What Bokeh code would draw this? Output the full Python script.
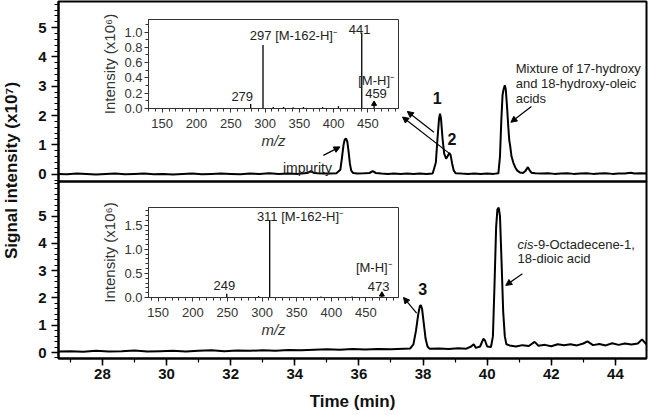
from bokeh.plotting import figure
from bokeh.models import (Range1d, SingleIntervalTicker, FixedTicker, Label, Arrow, NormalHead,
                          PrintfTickFormatter, Column)
from bokeh.embed import file_html
from bokeh.resources import INLINE

FONT = "Liberation Sans"

# ---------------- data ----------------
# top chromatogram (time in min, signal x10^7)
top_t = [26.6, 26.9, 27.2, 27.5, 27.8, 28.1, 28.4, 28.7, 29.0, 29.3, 29.6, 29.9, 30.2, 30.5,
         30.8, 31.1, 31.4, 31.7, 32.0, 32.3, 32.6, 32.9, 33.2, 33.5, 33.8, 34.1, 34.3, 34.42,
         34.5, 34.58, 34.7, 34.9, 35.1, 35.3, 35.42, 35.47, 35.52, 35.56, 35.60, 35.64, 35.68,
         35.72, 35.76, 35.82, 35.95, 36.15, 36.33, 36.43, 36.53, 36.7, 36.9, 37.1, 37.3, 37.5,
         37.7, 37.9, 38.1, 38.3, 38.40, 38.45, 38.50, 38.53, 38.56, 38.61, 38.66, 38.72, 38.77,
         38.82, 38.86, 38.91, 38.96, 39.02, 39.2, 39.4, 39.6, 39.8, 40.0, 40.2, 40.35, 40.40,
         40.44, 40.48, 40.51, 40.55, 40.58, 40.62, 40.66, 40.69, 40.72, 40.76, 40.82, 40.88,
         40.94, 41.02, 41.12, 41.20, 41.27, 41.32, 41.38, 41.5, 41.7, 41.9, 42.1, 42.3, 42.5,
         42.7, 42.9, 43.1, 43.3, 43.5, 43.7, 43.9, 44.1, 44.3, 44.47, 44.6, 44.8, 45.0]
top_y = [0.01, 0.00, 0.02, 0.01, -0.01, 0.01, 0.02, 0.00, 0.01, 0.02, 0.00, 0.01, -0.01, 0.01,
         0.02, 0.00, 0.01, 0.02, 0.01, 0.00, 0.02, 0.01, 0.03, 0.01, 0.02, 0.01, 0.03, 0.05,
         0.10, 0.05, 0.03, 0.02, 0.02, 0.03, 0.15, 0.55, 1.00, 1.19, 1.21, 1.10, 0.75,
         0.35, 0.12, 0.04, 0.02, 0.03, 0.04, 0.10, 0.04, 0.02, 0.01, 0.02, 0.01, 0.02,
         0.01, 0.02, 0.01, 0.02, 0.40, 1.20, 1.90, 2.06, 1.90, 1.20, 0.70, 0.53, 0.62,
         0.72, 0.65, 0.35, 0.12, 0.03, 0.02, 0.01, 0.02, 0.01, 0.02, 0.01, 0.03, 0.60,
         1.80, 2.70, 2.88, 3.03, 2.90, 2.30, 1.60, 1.15, 0.95, 0.60, 0.38, 0.22,
         0.12, 0.06, 0.04, 0.12, 0.24, 0.14, 0.05, 0.03, 0.02, 0.03, 0.01, 0.02, 0.03,
         0.01, 0.02, 0.03, 0.01, 0.02, 0.03, 0.01, 0.02, 0.02, 0.05, 0.02, 0.03, 0.02]

# bottom chromatogram
bot_t = [26.6, 27.0, 27.4, 27.8, 28.2, 28.6, 29.0, 29.4, 29.8, 30.2, 30.6, 31.0, 31.4, 31.8,
         32.2, 32.6, 33.0, 33.4, 33.8, 34.2, 34.6, 35.0, 35.4, 35.8, 36.2, 36.6, 37.0, 37.4,
         37.6, 37.70, 37.78, 37.85, 37.90, 37.93, 37.97, 38.02, 38.08, 38.14, 38.2, 38.5, 38.8,
         39.1, 39.35, 39.5, 39.58, 39.65, 39.78, 39.88, 39.93, 40.0, 40.12, 40.18, 40.23, 40.28,
         40.32, 40.36, 40.40, 40.45, 40.50, 40.55, 40.6, 40.7, 40.9, 41.1, 41.3, 41.48, 41.6,
         41.8, 42.0, 42.2, 42.4, 42.6, 42.8, 43.0, 43.13, 43.3, 43.5, 43.7, 43.9, 44.1, 44.3,
         44.5, 44.7, 44.83, 44.95, 45.0]
bot_y = [0.04, 0.05, 0.03, 0.06, 0.04, 0.05, 0.07, 0.04, 0.05, 0.06, 0.04, 0.06, 0.08, 0.05,
         0.07, 0.06, 0.08, 0.06, 0.09, 0.08, 0.10, 0.12, 0.10, 0.13, 0.11, 0.13, 0.12, 0.14,
         0.15, 0.30, 0.80, 1.40, 1.70, 1.74, 1.60, 1.10, 0.50, 0.22, 0.14, 0.15, 0.13,
         0.16, 0.14, 0.22, 0.30, 0.17, 0.22, 0.50, 0.45, 0.22, 0.20, 0.60, 2.50, 4.60,
         5.25, 5.31, 5.00, 3.30, 1.50, 0.60, 0.30, 0.26, 0.22, 0.27, 0.24, 0.39, 0.25,
         0.28, 0.23, 0.30, 0.27, 0.30, 0.26, 0.33, 0.41, 0.27, 0.31, 0.26, 0.34, 0.28, 0.33,
         0.29, 0.33, 0.48, 0.32, 0.30]

# axis ticks of the chromatogram panels
signal_ticks = [0, 1, 2, 3, 4, 5]
signal_minor = [-0.2, 0.2, 0.4, 0.6, 0.8, 1.2, 1.4, 1.6, 1.8, 2.2, 2.4, 2.6, 2.8, 3.2, 3.4, 3.6,
                3.8, 4.2, 4.4, 4.6, 4.8, 5.2, 5.4, 5.6, 5.8, 6.0, 6.2]

# mass spectrum insets (m/z, intensity x10^6)
ms1_mz = [279, 297, 312, 327, 341, 356, 384, 407, 441, 459]
ms1_int = [0.06, 0.83, 0.02, 0.02, 0.015, 0.02, 0.02, 0.03, 0.99, 0.05]
ms1_marker_mz = [459]
ms1_marker_int = [0.06]

ms2_mz = [249, 295, 311, 385, 430, 473]
ms2_int = [0.08, 0.03, 1.59, 0.02, 0.02, 0.05]
ms2_marker_mz = [473]
ms2_marker_int = [0.06]


# ---------------- helpers ----------------
def place(fig, left, top):
    # absolute placement in page pixels
    fig.styles = {"position": "absolute", "left": f"{left}px", "top": f"{top}px",
                  "max-width": "none", "max-height": "none"}


def style_main_axis(ax, size="15px"):
    ax.axis_line_width = 2
    ax.axis_line_color = "black"
    ax.major_tick_line_width = 1.5
    ax.minor_tick_line_width = 1.2
    ax.major_tick_out = 7
    ax.major_tick_in = 0
    ax.minor_tick_out = 4
    ax.minor_tick_in = 0
    ax.major_label_text_font = FONT
    ax.major_label_text_font_style = "bold"
    ax.major_label_text_font_size = size
    ax.major_label_text_color = "#111111"


def style_inset_axis(ax):
    ax.axis_line_color = "#333333"
    ax.axis_line_width = 1
    ax.major_tick_line_color = "#333333"
    ax.minor_tick_line_color = "#333333"
    ax.major_tick_out = 4
    ax.major_tick_in = 0
    ax.minor_tick_out = 3
    ax.minor_tick_in = 0
    ax.major_label_text_font = FONT
    ax.major_label_text_font_size = "13px"
    ax.major_label_text_color = "#333333"
    ax.axis_label_text_font = FONT
    ax.axis_label_text_font_size = "15px"
    ax.axis_label_text_color = "#333333"


def lab(p, x, y, text, size="13px", style="normal", align="left", color="#222222", x_offset=0,
        baseline="middle"):
    p.add_layout(Label(x=x, y=y, text=text, text_font=FONT, text_font_size=size,
                       text_font_style=style, text_align=align, text_baseline=baseline,
                       text_color=color, x_offset=x_offset))


def arrow(p, x0, y0, x1, y1):
    p.add_layout(Arrow(end=NormalHead(size=6, fill_color="black", line_color="black", line_width=1),
                       x_start=x0, y_start=y0, x_end=x1, y_end=y1,
                       line_color="black", line_width=1.2))


def clean(p):
    p.xgrid.grid_line_color = None
    p.ygrid.grid_line_color = None
    p.border_fill_color = None
    p.toolbar.logo = None


xr = Range1d(26.63, 44.97)

# ---------------- top panel ----------------
top = figure(width=641, height=184, x_range=xr, y_range=Range1d(-0.25, 5.89),
             x_axis_type=None, toolbar_location=None, output_backend="svg",
             min_border_left=45, min_border_right=3, min_border_top=2, min_border_bottom=2,
             outline_line_color="black", outline_line_width=2, background_fill_color=None)
clean(top)
top.yaxis.ticker = FixedTicker(ticks=signal_ticks, minor_ticks=signal_minor)
style_main_axis(top.yaxis[0])
top.line(top_t, top_y, line_color="black", line_width=2)

lab(top, 33.63, 0.21, "impurity", size="14px", baseline="alphabetic")
arrow(top, 34.89, 0.64, 35.41, 0.93)
lab(top, 38.44, 2.59, "1", size="16px", style="bold", align="center", color="#111111")
lab(top, 38.90, 1.21, "2", size="16px", style="bold", align="center", color="#111111")
arrow(top, 38.34, 1.43, 37.51, 2.14)
arrow(top, 38.83, 0.70, 37.36, 1.95)
lab(top, 40.89, 3.60, "Mixture of 17-hydroxy")
lab(top, 40.89, 3.09, "and 18-hydroxy-oleic")
lab(top, 40.89, 2.57, "acids")
arrow(top, 41.38, 2.31, 40.74, 1.77)
place(top, 8, -1)

# ---------------- bottom panel ----------------
bot = figure(width=641, height=234, x_range=xr, y_range=Range1d(-0.22, 6.27),
             toolbar_location=None, output_backend="svg",
             min_border_left=45, min_border_right=3, min_border_top=2, min_border_bottom=53,
             outline_line_color="black", outline_line_width=2, background_fill_color=None)
clean(bot)
bot.yaxis.ticker = FixedTicker(ticks=signal_ticks, minor_ticks=signal_minor)
bot.xaxis.ticker = SingleIntervalTicker(interval=2, num_minor_ticks=2)
style_main_axis(bot.yaxis[0])
style_main_axis(bot.xaxis[0])
bot.xaxis.major_label_standoff = 3
bot.xaxis.axis_label = "Time (min)"
bot.xaxis.axis_label_text_font = FONT
bot.xaxis.axis_label_text_font_size = "17px"
bot.xaxis.axis_label_text_font_style = "bold"
bot.xaxis.axis_label_text_color = "#111111"
bot.xaxis.axis_label_standoff = 10
bot.line(bot_t, bot_y, line_color="black", line_width=2)

lab(bot, 37.99, 2.33, "3", size="16px", style="bold", align="center", color="#111111")
arrow(bot, 37.80, 1.44, 37.39, 2.02)
lab(bot, 40.95, 3.97, "cis", style="italic")
lab(bot, 40.95, 3.97, "-9-Octadecene-1,", x_offset=16)
lab(bot, 40.95, 3.43, "18-dioic acid")
arrow(bot, 41.10, 2.89, 40.58, 2.46)
place(bot, 8, 179)

# ---------------- shared y title (an axis title of a thin transparent figure) ----------------
ytitle = figure(width=28, height=216, x_range=(0, 1), y_range=(0, 1), x_axis_type=None,
                toolbar_location=None, output_backend="svg",
                min_border_left=24, min_border_right=0, min_border_top=0, min_border_bottom=0,
                outline_line_color=None, background_fill_color=None)
clean(ytitle)
ytitle.yaxis.ticker = FixedTicker(ticks=[])
ytitle.yaxis.axis_line_color = None
ytitle.yaxis.major_tick_line_color = None
ytitle.yaxis.minor_tick_line_color = None
ytitle.yaxis.axis_label = "Signal intensity (x10⁷)"
ytitle.yaxis.axis_label_text_font = FONT
ytitle.yaxis.axis_label_text_font_size = "17px"
ytitle.yaxis.axis_label_text_font_style = "bold"
ytitle.yaxis.axis_label_text_color = "#111111"
ytitle.yaxis.axis_label_standoff = 2
place(ytitle, -3, 62)


# ---------------- insets ----------------
def inset(xrange, yrange, interval, minor, fmt, frame_h):
    p = figure(width=303, height=12 + frame_h + 46, x_range=Range1d(*xrange), y_range=Range1d(*yrange),
               toolbar_location=None, output_backend="svg",
               min_border_left=50, min_border_right=3, min_border_top=12, min_border_bottom=46,
               outline_line_color="#333333", outline_line_width=1, background_fill_color="white")
    clean(p)
    p.xaxis.ticker = SingleIntervalTicker(interval=50, num_minor_ticks=5)
    p.yaxis.ticker = SingleIntervalTicker(interval=interval, num_minor_ticks=minor)
    p.yaxis.formatter = PrintfTickFormatter(format=fmt)
    style_inset_axis(p.xaxis[0])
    style_inset_axis(p.yaxis[0])
    p.yaxis.major_label_standoff = 2
    p.xaxis.major_label_standoff = 6
    p.yaxis.axis_label = "Intensity (x10⁶)"
    p.yaxis.axis_label_text_font_style = "normal"
    p.yaxis.axis_label_standoff = 3
    p.xaxis.axis_label = "m/z"
    p.xaxis.axis_label_text_font_style = "italic"
    p.xaxis.axis_label_standoff = 1
    return p


ins1 = inset((130, 494.6), (0, 1.164), 0.2, 2, "%.1f", 89)
ins1.segment(x0=ms1_mz, y0=[0] * len(ms1_mz), x1=ms1_mz, y1=ms1_int, line_color="black", line_width=1.3)
ins1.scatter(ms1_marker_mz, ms1_marker_int, marker="triangle", size=5, color="black")
lab(ins1, 277.8, 0.955, "297 [M-162-H]⁻")
lab(ins1, 437.8, 1.03, "441", align="center")
lab(ins1, 435.9, 0.366, "[M-H]⁻")
lab(ins1, 461.8, 0.19, "459", align="center")
lab(ins1, 266.7, 0.157, "279", align="center")
place(ins1, 98, 7)

ins2 = inset((136, 497), (0, 1.867), 0.5, 5, "%.1f", 90)
ins2.segment(x0=ms2_mz, y0=[0] * len(ms2_mz), x1=ms2_mz, y1=ms2_int, line_color="black", line_width=1.3)
ins2.scatter(ms2_marker_mz, ms2_marker_int, marker="triangle", size=5, color="black")
lab(ins2, 292.5, 1.69, "311 [M-162-H]⁻")
lab(ins2, 245.4, 0.249, "249", align="center")
lab(ins2, 435.5, 0.629, "[M-H]⁻")
lab(ins2, 468.2, 0.228, "473", align="center")
place(ins2, 98, 195)

root = Column(children=[top, bot, ins1, ins2, ytitle], width=642, height=399,
              styles={"position": "relative"})

open("out.html", "w").write(file_html(root, INLINE))
